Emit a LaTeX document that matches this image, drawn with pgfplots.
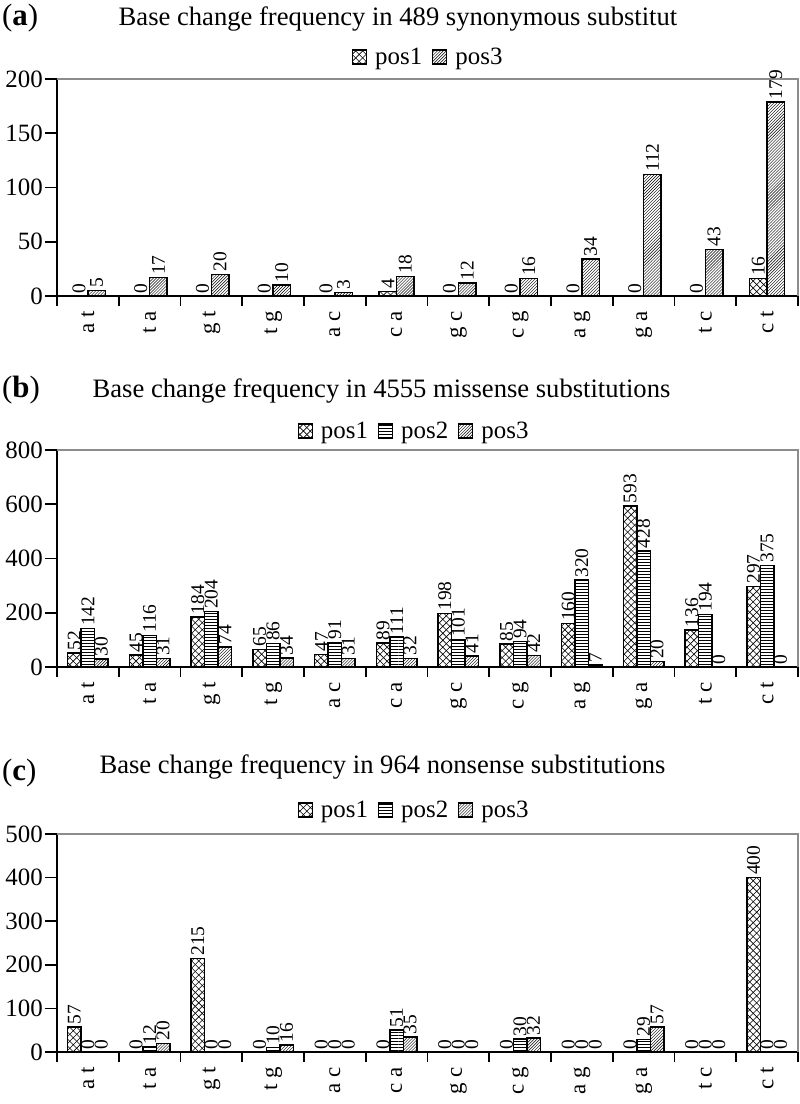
\documentclass[border=0pt]{standalone}
\usepackage{fontspec}
\setmainfont{Liberation Serif}
\usepackage{pgfplots}
\usepackage{pgfplotstable}
\pgfplotsset{compat=1.18}
\usetikzlibrary{patterns,patterns.meta}

\tikzdeclarepattern{
  name=bigcross,
  type=uncolored,
  bounding box={(-0.5pt,-0.5pt) and (7.5pt,7.5pt)},
  tile size={(7pt,7pt)},
  code={
    \draw[line width=0.6pt] (0pt,0pt) -- (7pt,7pt) (0pt,7pt) -- (7pt,0pt);
  }
}

\pgfplotstableread{
x p1 p3
0 0 5
1 0 17
2 0 20
3 0 10
4 0 3
5 4 18
6 0 12
7 0 16
8 0 34
9 0 112
10 0 43
11 16 179
}\tableA

\pgfplotstableread{
x p1 p2 p3
0 52 142 30
1 45 116 31
2 184 204 74
3 65 86 34
4 47 91 31
5 89 111 32
6 198 101 41
7 85 94 42
8 160 320 7
9 593 428 20
10 136 194 0
11 297 375 0
}\tableB

\pgfplotstableread{
x p1 p2 p3
0 57 0 0
1 0 12 20
2 215 0 0
3 0 10 16
4 0 0 0
5 0 51 35
6 0 0 0
7 0 30 32
8 0 0 0
9 0 29 57
10 0 0 0
11 400 0 0
}\tableC

\pgfplotsset{
  /pgf/number format/assume math mode=true,
  panel/.style={
    scale only axis, width=741bp,
    ybar=0pt, clip=false,
    xmin=-0.5, xmax=11.5, ymin=0,
    axis x line*=bottom, axis y line*=left,
    axis line style={line width=1.6bp, black},
    xtick={0,...,11},
    xticklabels={a t, t a, g t, t g, a c, c a, g c, c g, a g, g a, t c, c t},
    major x tick style={draw=none},
    minor xtick={-0.5,0.5,...,11.5},
    minor x tick style={line width=1.6bp, black},
    minor tick length=10bp,
    major tick length=12bp,
    y tick style={line width=1.6bp, black},
    tick align=outside,
    xticklabel style={rotate=90, anchor=east, font=\fontsize{23}{23}\selectfont, inner sep=3bp},
    yticklabel style={font=\fontsize{25}{25}\selectfont, inner sep=2bp},
    nodes near coords,
    every node near coord/.append style={rotate=90, anchor=west, font=\fontsize{19.5}{19.5}\selectfont, inner sep=2bp, text=black},
    legend image code/.code={\draw[##1, line width=1.2bp] (0bp,-7bp) rectangle (14bp,7bp);},
    legend style={draw=none, fill=none, legend columns=-1, anchor=center,
      font=\fontsize{25}{25}\selectfont,
      /tikz/every odd column/.append style={column sep=6bp},
      /tikz/every even column/.append style={column sep=8bp}},
  },
  s1/.style={draw=black, line width=1.5bp, pattern=bigcross},
  s2/.style={draw=black, line width=1.5bp, pattern=horizontal lines},
  s3/.style={draw=black, line width=1.5bp, pattern=north east lines},
}

\begin{document}
\begin{tikzpicture}
\useasboundingbox (0,0) rectangle (800bp,-1104bp);

% ---------- panel (a)
\begin{axis}[panel,
  at={(57bp,-296bp)}, anchor=south west, height=217bp,
  bar width=17.5bp, ymax=200, ytick={0,50,100,150,200},
  legend style={at={(0.501,1.101)}}]
\addplot[s1] table[x=x,y=p1] {\tableA};
\addplot[s3] table[x=x,y=p3] {\tableA};
\legend{pos1,pos3}
\draw[black!45, line width=1.3bp] (rel axis cs:0,1) -- (rel axis cs:1,1) -- (rel axis cs:1,0);
\end{axis}

% ---------- panel (b)
\begin{axis}[panel,
  at={(57bp,-667bp)}, anchor=south west, height=217bp,
  bar width=13.5bp, ymax=800, ytick={0,200,400,600,800},
  legend style={at={(0.482,1.088)}}]
\addplot[s1] table[x=x,y=p1] {\tableB};
\addplot[s2] table[x=x,y=p2] {\tableB};
\addplot[s3] table[x=x,y=p3] {\tableB};
\legend{pos1,pos2,pos3}
\draw[black!45, line width=1.3bp] (rel axis cs:0,1) -- (rel axis cs:1,1) -- (rel axis cs:1,0);
\end{axis}

% ---------- panel (c)
\begin{axis}[panel,
  at={(57bp,-1052bp)}, anchor=south west, height=218bp,
  bar width=13.5bp, ymax=500, ytick={0,100,200,300,400,500},
  legend style={at={(0.482,1.110)}}]
\addplot[s1] table[x=x,y=p1] {\tableC};
\addplot[s2] table[x=x,y=p2] {\tableC};
\addplot[s3] table[x=x,y=p3] {\tableC};
\legend{pos1,pos2,pos3}
\draw[black!45, line width=1.3bp] (rel axis cs:0,1) -- (rel axis cs:1,1) -- (rel axis cs:1,0);
\end{axis}

% ---------- titles
\node[anchor=base west, font=\fontsize{31}{31}\selectfont, inner sep=0pt] at (2bp,-25bp) {(\textbf{a})};
\node[anchor=base, font=\fontsize{26.7}{26.7}\selectfont, inner sep=0pt] at (398bp,-25bp) {Base change frequency in 489 synonymous substitut};
\node[anchor=base west, font=\fontsize{31}{31}\selectfont, inner sep=0pt] at (2bp,-397bp) {(\textbf{b})};
\node[anchor=base, font=\fontsize{26.7}{26.7}\selectfont, inner sep=0pt] at (381.5bp,-397bp) {Base change frequency in 4555 missense substitutions};
\node[anchor=base west, font=\fontsize{31}{31}\selectfont, inner sep=0pt] at (2bp,-780bp) {(\textbf{c})};
\node[anchor=base, font=\fontsize{26.7}{26.7}\selectfont, inner sep=0pt] at (382.5bp,-773bp) {Base change frequency in 964 nonsense substitutions};
\end{tikzpicture}
\end{document}
